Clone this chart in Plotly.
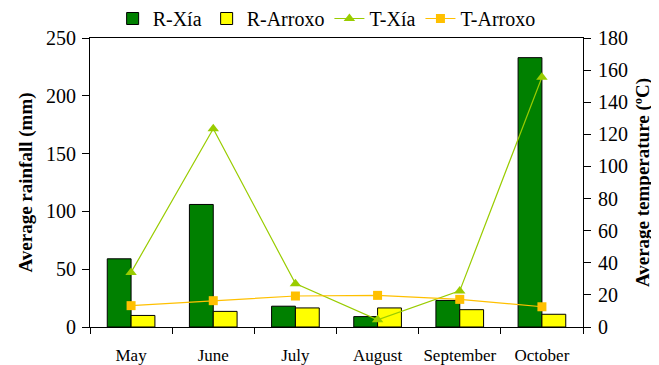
import plotly.graph_objects as go

months = ["May", "June", "July", "August", "September", "October"]
rain_xia = [59, 106, 18, 9, 23, 233]
rain_arroxo = [10, 13.5, 16.5, 16.5, 15, 11]
temp_xia = [34, 123.5, 27, 4.5, 22.5, 155.5]
temp_arroxo = [13.3, 16.4, 19.3, 19.7, 17.2, 12.6]

FONT = "Liberation Serif, Times New Roman, serif"

fig = go.Figure()
fig.add_trace(go.Bar(x=months, y=rain_xia, name="R-Xía",
                     marker=dict(color="#008000", line=dict(color="black", width=1))))
fig.add_trace(go.Bar(x=months, y=rain_arroxo, name="R-Arroxo",
                     marker=dict(color="#FFFF00", line=dict(color="black", width=1))))
fig.add_trace(go.Scatter(x=months, y=temp_xia, name="T-Xía", yaxis="y2",
                         mode="lines+markers",
                         line=dict(color="#99CC00", width=1.2),
                         marker=dict(symbol="triangle-up", size=10, color="#99CC00")))
fig.add_trace(go.Scatter(x=months, y=temp_arroxo, name="T-Arroxo", yaxis="y2",
                         mode="lines+markers",
                         line=dict(color="#FFC000", width=1.2),
                         marker=dict(symbol="square", size=9, color="#FFC000")))

# the page body adds an 8px margin, so the figure is sized to fit inside the window
fig.update_layout(
    width=651, height=357,
    margin=dict(l=82, r=76, t=30, b=38, autoexpand=False),
    paper_bgcolor="white", plot_bgcolor="white",
    font=dict(family=FONT, color="black", size=20),
    barmode="group", bargap=0.42, bargroupgap=0,
    showlegend=True,
    legend=dict(orientation="h", x=0.48, xanchor="center", y=1.0, yanchor="bottom",
                font=dict(size=20, family=FONT), itemwidth=30, tracegroupgap=0,
                bgcolor="rgba(0,0,0,0)"),
    xaxis=dict(type="category", tickson="boundaries", ticks="outside", ticklen=6,
               tickcolor="black", showline=True, linecolor="black", linewidth=1,
               mirror=True, tickfont=dict(size=17, family=FONT),
               ticklabelstandoff=13, showgrid=False),
    yaxis=dict(range=[0, 250], dtick=50, ticks="outside", ticklen=7, tickcolor="black",
               showline=True, linecolor="black", linewidth=1, showgrid=False,
               zeroline=False, tickfont=dict(size=20, family=FONT),
               ticklabelstandoff=2,
               title=dict(text="<b>Average rainfall (mm)</b>", font=dict(size=19, family=FONT),
                          standoff=8)),
    yaxis2=dict(range=[0, 180], dtick=20, overlaying="y", side="right",
                ticks="outside", ticklen=7, tickcolor="black", showline=True,
                linecolor="black", linewidth=1, showgrid=False, zeroline=False,
                tickfont=dict(size=20, family=FONT), ticklabelstandoff=3,
                title=dict(text="<b>Average temperature (ºC)</b>",
                           font=dict(size=19, family=FONT), standoff=8)),
)

fig.write_html("out.html")
